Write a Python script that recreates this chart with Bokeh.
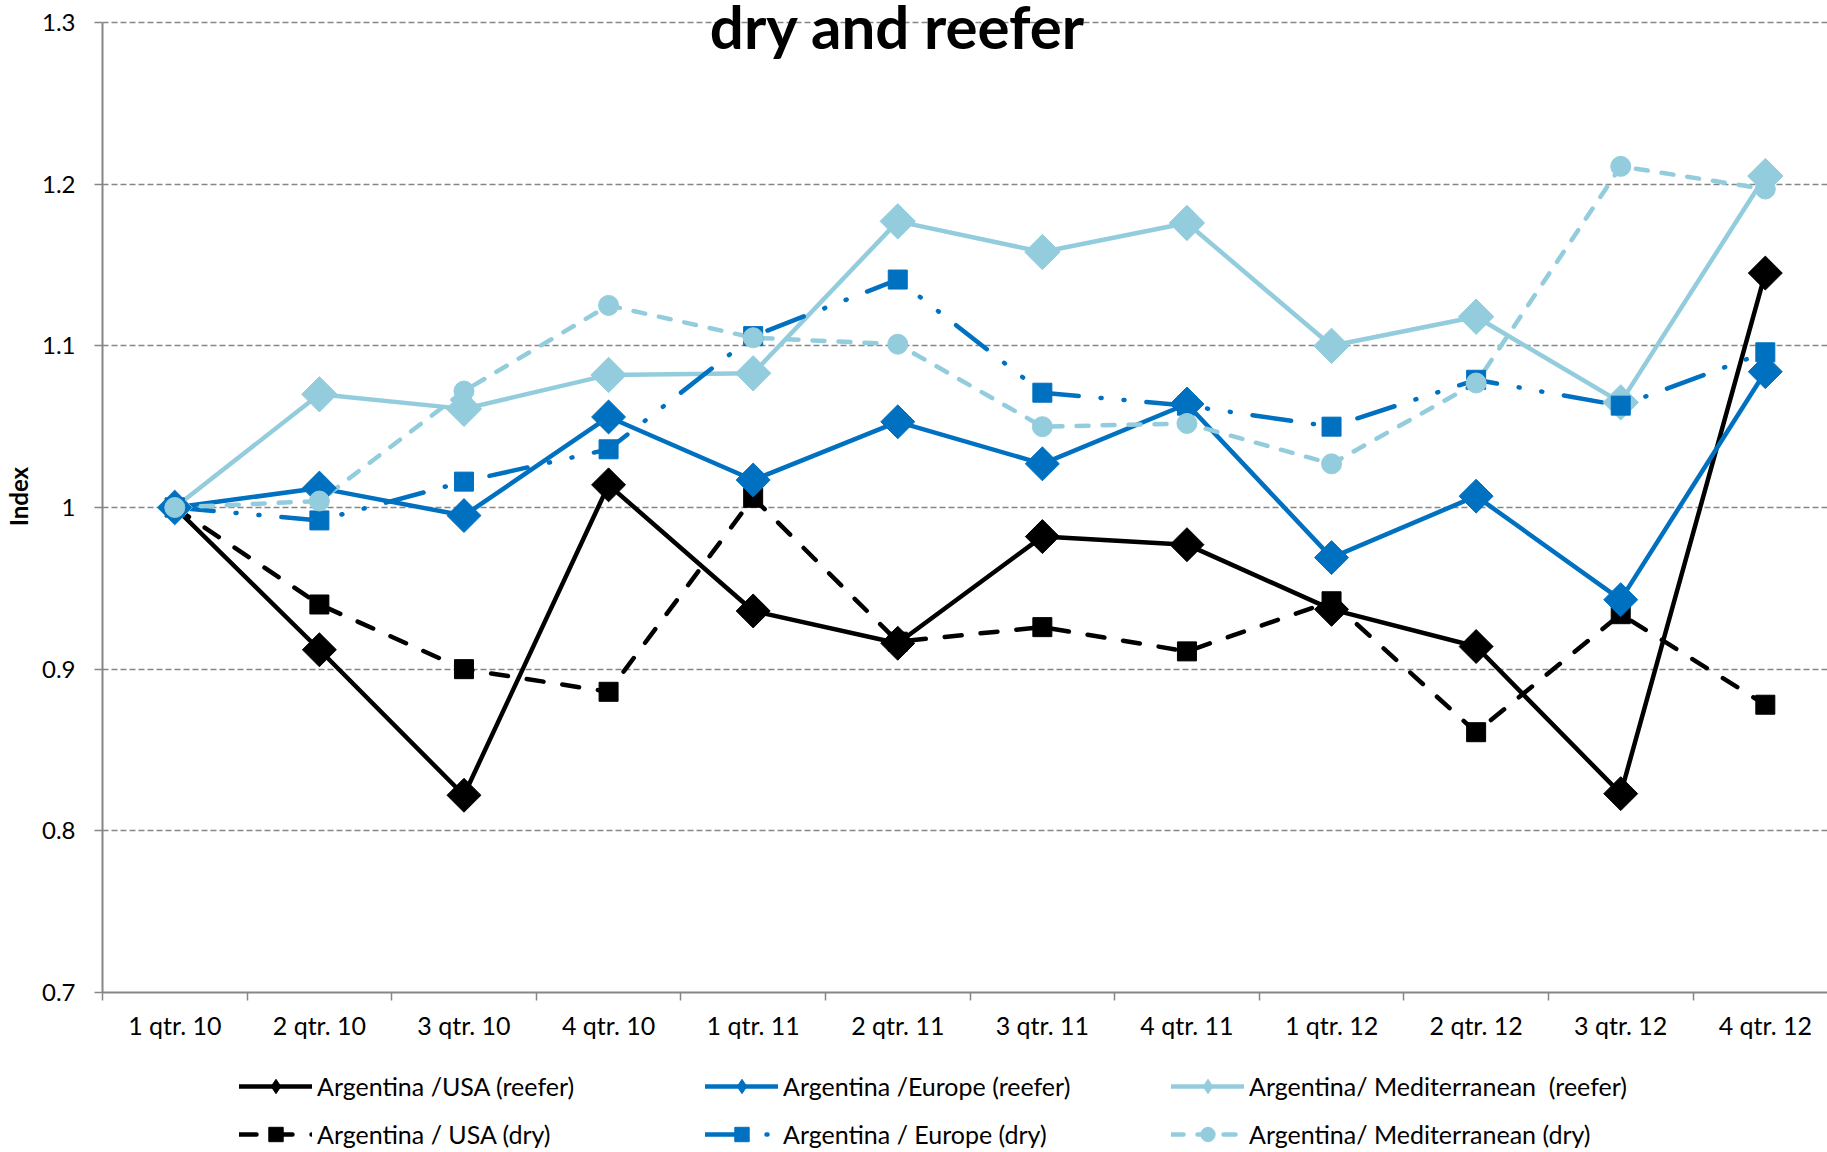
import math
from bokeh.plotting import figure
from bokeh.layouts import column
from bokeh.models import (Range1d, FixedTicker, Legend, LegendItem, Label,
                          ColumnDataSource)
from bokeh.embed import file_html
from bokeh.resources import INLINE

categories = ["1 qtr. 10", "2 qtr. 10", "3 qtr. 10", "4 qtr. 10",
              "1 qtr. 11", "2 qtr. 11", "3 qtr. 11", "4 qtr. 11",
              "1 qtr. 12", "2 qtr. 12", "3 qtr. 12", "4 qtr. 12"]

usa_reefer = [1.000, 0.912, 0.822, 1.014, 0.936, 0.916, 0.982, 0.977, 0.937, 0.914, 0.823, 1.145]
europe_reefer = [1.000, 1.012, 0.995, 1.056, 1.017, 1.053, 1.027, 1.064, 0.969, 1.007, 0.943, 1.084]
med_reefer = [1.000, 1.070, 1.061, 1.082, 1.083, 1.177, 1.158, 1.176, 1.100, 1.118, 1.065, 1.205]
usa_dry = [1.000, 0.940, 0.900, 0.886, 1.006, 0.917, 0.926, 0.911, 0.942, 0.861, 0.934, 0.878]
europe_dry = [1.000, 0.992, 1.016, 1.036, 1.106, 1.141, 1.071, 1.063, 1.050, 1.079, 1.063, 1.096]
med_dry = [1.000, 1.004, 1.072, 1.125, 1.105, 1.101, 1.050, 1.052, 1.027, 1.077, 1.211, 1.197]

y_ticks = [0.7, 0.8, 0.9, 1.0, 1.1, 1.2, 1.3]
y_tick_labels = ["0.7", "0.8", "0.9", "1", "1.1", "1.2", "1.3"]

BLACK = "#000000"
BLUE = "#0070C0"
LIGHT = "#93CDDD"
FONT = "Lato"

xs = list(range(len(categories)))

# ---------------- main chart ----------------
# the frame reaches the top edge so that the title can overlap the 1.3 gridline
p = figure(width=1827, height=1042, output_backend="svg", toolbar_location=None,
           x_range=Range1d(-0.5, 11.43), y_range=Range1d(0.7, 1.3136),
           min_border_left=99, min_border_top=0, min_border_right=0,
           min_border_bottom=50)
p.outline_line_color = None
p.background_fill_color = "white"
p.border_fill_color = "white"

p.xaxis.ticker = FixedTicker(ticks=xs, minor_ticks=[i - 0.5 for i in range(13)])
p.xaxis.major_label_overrides = {i: c for i, c in enumerate(categories)}
p.xaxis.major_tick_out = 0
p.xaxis.major_tick_in = 0
p.xaxis.minor_tick_out = 8
p.xaxis.minor_tick_in = 0
p.xaxis.minor_tick_line_color = "#868686"
p.xaxis.minor_tick_line_width = 1.5
p.xaxis.axis_line_color = "#868686"
p.xaxis.axis_line_width = 2
p.xaxis.major_label_text_font = FONT
p.xaxis.major_label_text_font_size = "25px"
p.xaxis.major_label_text_color = "black"
p.xaxis.major_label_standoff = 9

p.yaxis.ticker = FixedTicker(ticks=y_ticks)
p.yaxis.bounds = (0.7, 1.3)
p.yaxis.major_label_overrides = {t: l for t, l in zip(y_ticks, y_tick_labels)}
p.yaxis.major_tick_out = 8
p.yaxis.major_tick_in = 0
p.yaxis.minor_tick_line_color = None
p.yaxis.major_tick_line_color = "#868686"
p.yaxis.major_tick_line_width = 1.5
p.yaxis.axis_line_color = "#868686"
p.yaxis.axis_line_width = 2
p.yaxis.major_label_text_font = FONT
p.yaxis.major_label_text_font_size = "24px"
p.yaxis.major_label_text_color = "black"
p.yaxis.major_label_standoff = 19
p.yaxis.axis_label = "Index"
p.yaxis.axis_label_text_font = FONT
p.yaxis.axis_label_text_font_style = "bold"
p.yaxis.axis_label_text_font_size = "24px"
p.yaxis.axis_label_text_color = "black"
p.yaxis.axis_label_standoff = 6

p.xgrid.grid_line_color = None
p.ygrid.ticker = FixedTicker(ticks=y_ticks)
p.ygrid.grid_line_color = "#868686"
p.ygrid.grid_line_width = 1.5
p.ygrid.grid_line_dash = "6 3"

# (name, values, color, dash, marker, size, angle, legend marker, legend size)
series = [
    ("Argentina /USA (reefer)", usa_reefer, BLACK, "solid", "square", 24, math.pi / 4, "diamond", 19),
    ("Argentina / USA (dry)", usa_dry, BLACK, "17 19", "square", 19, 0, "square", 15),
    ("Argentina/ Mediterranean  (reefer)", med_reefer, LIGHT, "solid", "square", 25, math.pi / 4, "diamond", 19),
    ("Argentina / Europe (dry)", europe_dry, BLUE, "39 22 1 22 1 22", "square", 19, 0, "square", 15),
    ("Argentina /Europe (reefer)", europe_reefer, BLUE, "solid", "square", 24, math.pi / 4, "diamond", 19),
    ("Argentina/ Mediterranean (dry)", med_dry, LIGHT, "12 14", "circle", 20, 0, "circle", 17),
]

sources = {}
for name, vals, color, dash, marker, size, angle, lmarker, lsize in series:
    sources[name] = ColumnDataSource(dict(x=xs, y=vals))
    p.line("x", "y", source=sources[name], line_color=color, line_width=4.5,
           line_dash=dash, line_cap="round", line_join="round")
for name, vals, color, dash, marker, size, angle, lmarker, lsize in series:
    p.scatter("x", "y", source=sources[name], marker=marker, size=size, angle=angle,
              fill_color=color, line_color=color, line_width=1)

title = Label(x=5.0, y=1.2980, x_units="data", y_units="data", text="dry and reefer",
              text_font=FONT, text_font_style="bold", text_font_size="60px",
              text_align="center", text_baseline="alphabetic", text_color="black")
p.add_layout(title)

# ---------------- legend strip ----------------
# the strip's ranges are far from the data, so its glyphs only show in the legend
p2 = figure(width=1827, height=110, output_backend="svg", toolbar_location=None,
            x_range=Range1d(100, 101), y_range=Range1d(100, 101),
            x_axis_location=None, y_axis_location=None, min_border=0,
            min_border_left=0, min_border_right=0, min_border_top=0,
            min_border_bottom=0)
p2.outline_line_color = None
p2.xgrid.grid_line_color = None
p2.ygrid.grid_line_color = None

legend_renderers = {}
for name, vals, color, dash, marker, size, angle, lmarker, lsize in series:
    ln = p2.line("x", "y", source=sources[name], line_color=color, line_width=4.5,
                 line_dash=dash, line_cap="round", line_join="round")
    sc = p2.scatter("x", "y", source=sources[name], marker=lmarker, size=lsize,
                    fill_color=color, line_color=color, line_width=1)
    legend_renderers[name] = [ln, sc]

legend_rows = [
    (["Argentina /USA (reefer)", "Argentina /Europe (reefer)",
      "Argentina/ Mediterranean  (reefer)"], 48),
    (["Argentina / USA (dry)", "Argentina / Europe (dry)",
      "Argentina/ Mediterranean (dry)"], 0),
]
for row, ypos in legend_rows:
    items = [LegendItem(label=n, renderers=legend_renderers[n]) for n in row]
    lg = Legend(items=items, orientation="horizontal",
                location=(137, ypos), padding=0, margin=0, spacing=24,
                glyph_width=73, glyph_height=36, label_height=36,
                label_width=364, label_standoff=5,
                label_text_font=FONT, label_text_font_size="25px",
                label_text_color="black",
                border_line_color=None, background_fill_alpha=0)
    p2.add_layout(lg)

layout = column(p, p2, spacing=0)
open("out.html", "w").write(file_html(layout, INLINE))
